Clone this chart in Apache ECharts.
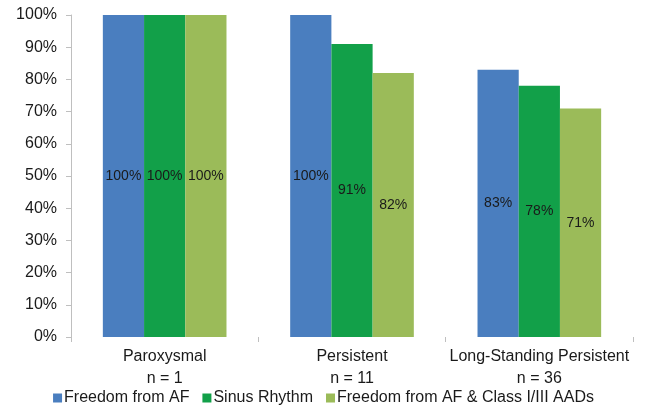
<!DOCTYPE html>
<html>
<head>
<meta charset="utf-8">
<script src="https://cdn.jsdelivr.net/npm/echarts@6/dist/echarts.min.js"></script>
<style>
  html, body { margin: 0; padding: 0; background: #fff; }
  #main { width: 647px; height: 408px; }
</style>
</head>
<body>
<div id="main"></div>
<script>
  var myChart = echarts.init(document.getElementById('main'));

  // 数据
  var categories = ['Paroxysmal\nn = 1', 'Persistent\nn = 11', 'Long-Standing Persistent\nn = 36'];
  var freedomAF = [100, 100, 83];
  var sinusRhythm = [100, 91, 78];
  var freedomAAD = [100, 82, 71];
  var seriesNames = ['Freedom from AF', 'Sinus Rhythm', 'Freedom from AF & Class I/III AADs'];
  var colors = ['#4A7EBF', '#12A049', '#9BBB59'];

  var fontName = 'Liberation Sans';

  function barSeries(name, data, color) {
    return {
      name: name,
      type: 'bar',
      data: data,
      barGap: '0%',
      barCategoryGap: '34%',
      itemStyle: { color: color },
      label: {
        show: true,
        position: 'inside',
        formatter: '{c}%',
        color: '#1a1a1a',
        fontFamily: fontName,
        fontSize: 14
      }
    };
  }

  var option = {
    backgroundColor: '#fff',
    animation: false,
    grid: { left: 71, right: 14, top: 15, bottom: 71 },
    legend: {
      bottom: 2,
      left: 'center',
      padding: 0,
      itemWidth: 9,
      itemHeight: 9,
      itemGap: 13,
      icon: 'rect',
      textStyle: { fontFamily: fontName, fontSize: 16, color: '#1a1a1a', padding: [0, 0, 0, -3] },
      data: seriesNames
    },
    xAxis: {
      type: 'category',
      data: categories,
      axisLine: { show: false },
      axisTick: { show: true, length: 5, lineStyle: { color: '#bfbfbf' } },
      axisLabel: {
        interval: 0,
        fontFamily: fontName,
        fontSize: 16,
        color: '#1a1a1a',
        lineHeight: 22,
        margin: 9
      }
    },
    yAxis: {
      type: 'value',
      min: 0,
      max: 100,
      interval: 10,
      splitLine: { show: false },
      axisLine: { show: true, lineStyle: { color: '#bfbfbf' } },
      axisTick: { show: true, length: 5, lineStyle: { color: '#bfbfbf' } },
      axisLabel: {
        formatter: '{value}%',
        fontFamily: fontName,
        fontSize: 16,
        color: '#1a1a1a',
        margin: 14
      }
    },
    series: [
      barSeries(seriesNames[0], freedomAF, colors[0]),
      barSeries(seriesNames[1], sinusRhythm, colors[1]),
      barSeries(seriesNames[2], freedomAAD, colors[2])
    ]
  };
  myChart.setOption(option);
</script>
</body>
</html>
